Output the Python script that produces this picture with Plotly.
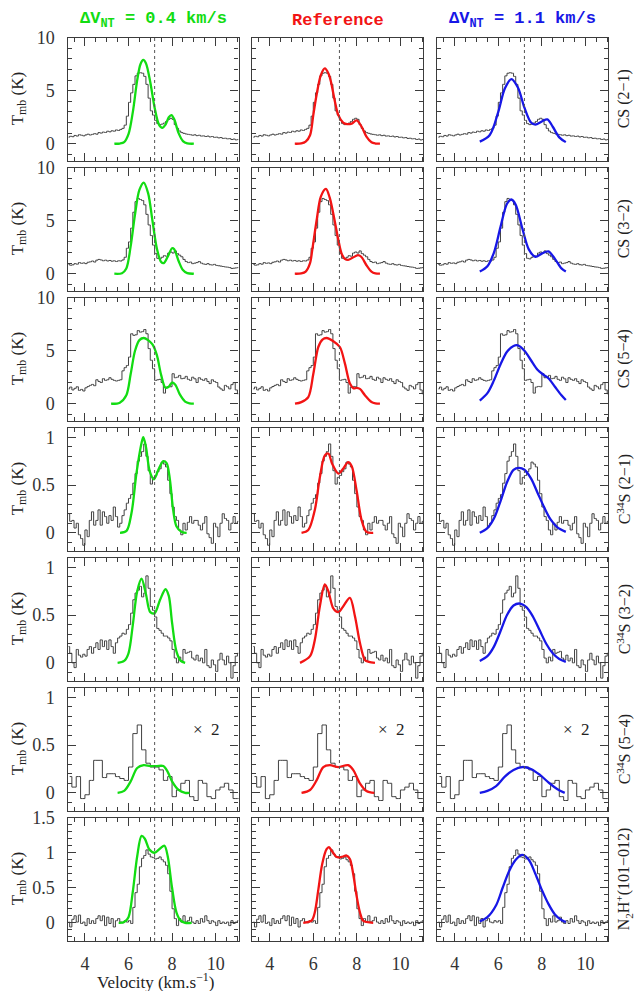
import plotly.graph_objects as go
from plotly.subplots import make_subplots

# ---- observed spectra (black histograms), same in all three columns ----
obs_v0 = 3.25
obs_dv = 0.1
cs21_obs = [0.62, 0.70, 0.66, 0.78, 0.72, 0.85, 0.80, 0.74, 0.83, 0.90,
            0.82, 0.88, 0.95, 0.90, 1.05, 1.00, 1.10, 1.06, 1.18, 1.12,
            1.22, 1.18, 1.30, 1.25, 1.35, 1.45, 1.75, 2.60, 3.90, 4.80,
            5.60, 6.40, 6.65, 6.70, 6.65, 6.35, 5.60, 4.30, 3.10, 2.70,
            2.20, 1.90, 1.80, 1.85, 1.95, 2.10, 2.30, 2.40, 2.30, 1.80,
            1.45, 1.20, 1.05, 0.98, 0.92, 0.88, 0.85, 0.80, 0.84, 0.76,
            0.80, 0.72, 0.74, 0.68, 0.72, 0.64, 0.68, 0.60, 0.62, 0.55,
            0.58, 0.50, 0.52, 0.46, 0.48, 0.40, 0.44, 0.36, 0.40]
cs32_obs = [0.88, 0.80, 0.84, 0.95, 0.90, 1.05, 0.98, 1.02, 0.95, 1.08,
            1.12, 1.20, 1.10, 1.28, 1.35, 1.30, 1.22, 1.28, 1.20, 1.25,
            1.18, 1.22, 1.15, 1.22, 1.20, 1.30, 1.55, 2.40, 3.00, 4.30,
            5.80, 6.80, 7.10, 7.00, 6.90, 6.50, 5.60, 4.60, 3.60, 2.70,
            1.90, 1.45, 1.40, 1.55, 1.70, 1.65, 1.95, 2.05, 1.95, 2.15,
            1.90, 1.75, 1.60, 1.35, 1.15, 1.05, 1.10, 0.95, 1.00, 1.05,
            1.15, 1.00, 0.92, 0.88, 0.95, 0.85, 0.82, 0.88, 0.78, 0.75,
            0.72, 0.68, 0.64, 0.62, 0.58, 0.50, 0.52, 0.55, 0.58]
cs54_obs = [1.40, 1.57, 1.30, 1.45, 1.60, 1.26, 1.35, 1.20, 1.50, 1.62,
            1.73, 1.82, 1.70, 2.26, 2.10, 2.00, 2.36, 2.20, 2.26, 2.45,
            2.30, 2.20, 2.14, 2.20, 2.26, 3.10, 3.40, 3.60, 4.40, 6.60,
            6.45, 6.50, 6.90, 6.75, 6.80, 7.00, 6.60, 5.20, 4.10, 3.30,
            2.20, 2.26, 2.30, 2.00, 1.00, 1.57, 1.63, 1.60, 2.83, 2.45,
            2.50, 2.67, 2.36, 2.40, 2.58, 2.30, 2.20, 2.50, 2.35, 2.00,
            2.45, 2.30, 2.20, 2.36, 2.10, 1.90, 2.26, 2.10, 2.00, 1.57,
            1.40, 1.26, 1.73, 1.60, 1.40, 1.80, 2.00, 1.30, 0.94]
c34s21_obs = [0.20, 0.12, 0.13, 0.05, 0.10, -0.02, -0.06, -0.13, 0.03, -0.04,
              0.13, 0.22, 0.08, 0.13, 0.24, 0.08, 0.22, 0.17, 0.10, 0.18,
              0.13, 0.27, 0.17, 0.06, 0.10, 0.18, 0.24, 0.31, 0.36, 0.40,
              0.52, 0.62, 0.75, 0.80, 0.85, 0.93, 0.80, 0.65, 0.51, 0.58,
              0.60, 0.64, 0.67, 0.74, 0.72, 0.69, 0.55, 0.41, 0.27, 0.17,
              0.13, 0.03, -0.02, 0.10, 0.03, 0.11, 0.17, 0.10, 0.13, 0.13,
              0.08, 0.03, 0.10, 0.17, -0.01, -0.05, -0.11, 0.10, 0.06, -0.04,
              0.10, 0.20, 0.15, 0.13, 0.03, 0.10, 0.17, 0.10, 0.12]
c34s32_obs = [0.17, 0.10, 0.00, -0.05, 0.14, 0.08, 0.06, 0.09, 0.07, 0.14,
              0.17, 0.10, 0.16, 0.21, 0.14, 0.24, 0.17, 0.23, 0.14, 0.24,
              0.17, 0.10, 0.21, 0.26, 0.28, 0.31, 0.30, 0.35, 0.40, 0.52,
              0.66, 0.73, 0.76, 0.80, 0.69, 0.73, 0.91, 0.78, 0.59, 0.55,
              0.48, 0.36, 0.34, 0.31, 0.28, 0.28, 0.26, 0.23, 0.14, 0.05,
              0.00, 0.06, 0.02, 0.14, 0.10, 0.11, 0.12, 0.05, 0.03, 0.08,
              0.02, 0.05, 0.00, 0.14, -0.03, -0.05, 0.03, -0.02, -0.09, 0.03,
              0.10, 0.03, -0.02, 0.07, 0.00, -0.16, -0.03, 0.07, 0.10]
n2h_obs = [0.01, -0.06, 0.05, 0.10, 0.01, 0.11, -0.01, 0.01, -0.04, 0.06,
           -0.01, 0.03, -0.01, 0.06, 0.10, 0.03, 0.10, -0.04, 0.08, -0.01,
           0.06, -0.06, 0.03, 0.06, 0.01, 0.00, 0.03, 0.01, 0.03, -0.01,
           0.22, 0.43, 0.55, 0.80, 0.92, 0.96, 1.04, 0.98, 0.94, 0.93,
           0.91, 0.92, 0.94, 0.90, 0.87, 0.82, 0.70, 0.45, 0.20, 0.06,
           -0.04, 0.06, 0.01, 0.10, 0.01, 0.03, 0.08, 0.01, -0.01, 0.03,
           -0.01, 0.06, 0.01, 0.10, 0.03, -0.01, 0.03, 0.01, -0.04, 0.03,
           -0.01, 0.01, -0.01, 0.01, -0.04, 0.03, -0.01, 0.01, 0.03]
# C34S (5-4) has coarser channels
c34s54_v0 = 3.3
c34s54_dv = 0.2
c34s54_obs = [0.17, 0.06, 0.17, -0.06, -0.02, 0.13, 0.34, 0.34, 0.16, 0.20,
              0.20, 0.17, 0.15, 0.13, 0.27, 0.62, 0.71, 0.45, 0.31, 0.27,
              0.27, 0.24, 0.13, 0.17, -0.04, 0.03, 0.10, 0.13, -0.04, -0.08,
              0.13, 0.10, -0.04, -0.06, 0.03, 0.06, 0.10, 0.03, -0.06, -0.06]

# ---- model curves: (velocity, T) per column ----
# column 1 : dV_NT = 0.4 km/s (green)
g1_v = [5.35, 5.6, 5.8, 6.0, 6.2, 6.4, 6.55, 6.68, 6.8, 7.0, 7.2, 7.4, 7.55, 7.7, 7.85, 7.97, 8.1, 8.3, 8.5, 8.7, 9.0]
g1_t = [0.0, 0.02, 0.15, 0.9, 3.0, 6.0, 7.5, 7.9, 7.6, 5.8, 3.4, 1.8, 1.5, 1.8, 2.5, 2.7, 2.3, 1.0, 0.25, 0.03, 0.0]
g2_v = [5.35, 5.7, 5.9, 6.1, 6.3, 6.5, 6.7, 6.9, 7.1, 7.3, 7.5, 7.62, 7.8, 8.0, 8.1, 8.3, 8.5, 8.7, 9.0]
g2_t = [0.0, 0.05, 0.5, 2.6, 5.6, 7.9, 8.6, 7.6, 5.0, 2.4, 1.1, 1.0, 1.6, 2.4, 2.3, 1.2, 0.35, 0.05, 0.0]
g3_v = [5.2, 5.6, 5.9, 6.1, 6.3, 6.5, 6.7, 6.9, 7.1, 7.3, 7.5, 7.7, 7.85, 8.0, 8.15, 8.35, 8.6, 8.8, 9.0]
g3_t = [0.0, 0.1, 0.8, 2.8, 5.0, 6.0, 6.2, 6.0, 5.6, 4.6, 2.7, 1.5, 1.6, 2.0, 1.8, 0.9, 0.2, 0.03, 0.0]
g4_v = [5.61, 5.91, 6.14, 6.37, 6.6, 6.68, 6.8, 6.98, 7.17, 7.37, 7.6, 7.75, 7.9, 8.05, 8.2, 8.44, 8.67]
g4_t = [0.0, 0.02, 0.21, 0.63, 0.94, 1.0, 0.9, 0.64, 0.56, 0.66, 0.75, 0.73, 0.56, 0.24, 0.07, 0.01, 0.0]
g5_v = [5.5, 5.8, 6.0, 6.2, 6.4, 6.6, 6.8, 7.0, 7.2, 7.45, 7.7, 7.85, 8.0, 8.2, 8.4, 8.6]
g5_t = [0.0, 0.02, 0.1, 0.4, 0.75, 0.88, 0.72, 0.53, 0.52, 0.66, 0.77, 0.7, 0.42, 0.12, 0.02, 0.0]
g6_v = [5.5, 5.8, 6.1, 6.4, 6.7, 7.0, 7.3, 7.6, 7.8, 8.0, 8.3, 8.6, 8.8]
g6_t = [0.0, 0.02, 0.12, 0.26, 0.29, 0.28, 0.28, 0.28, 0.22, 0.12, 0.03, 0.0, 0.0]
g7_v = [5.55, 5.8, 6.0, 6.2, 6.4, 6.6, 6.75, 6.95, 7.2, 7.45, 7.65, 7.8, 8.0, 8.2, 8.4, 8.6, 8.9]
g7_t = [0.0, 0.01, 0.08, 0.45, 0.95, 1.24, 1.2, 1.05, 1.0, 1.06, 1.1, 0.95, 0.5, 0.15, 0.03, 0.0, 0.0]

# column 2 : reference (red)
r1_v = [5.15, 5.45, 5.65, 5.85, 6.0, 6.15, 6.35, 6.53, 6.7, 6.81, 6.99, 7.15, 7.37, 7.55, 7.76, 7.99, 8.22, 8.44, 8.67, 8.85, 9.06]
r1_t = [0.0, 0.03, 0.2, 0.8, 2.7, 4.6, 6.5, 7.1, 6.6, 5.85, 4.0, 2.7, 2.0, 1.85, 1.9, 2.2, 1.6, 0.66, 0.13, 0.02, 0.0]
r2_v = [5.15, 5.45, 5.65, 5.85, 5.95, 6.15, 6.35, 6.58, 6.75, 6.99, 7.15, 7.3, 7.45, 7.6, 7.8, 8.05, 8.2, 8.44, 8.67, 8.85, 9.06]
r2_t = [0.0, 0.03, 0.2, 1.0, 2.2, 5.0, 7.3, 8.0, 7.2, 4.9, 3.2, 1.9, 1.4, 1.3, 1.5, 1.75, 1.6, 0.8, 0.2, 0.03, 0.0]
r3_v = [5.16, 5.45, 5.77, 6.0, 6.23, 6.42, 6.61, 6.92, 7.22, 7.45, 7.68, 7.85, 7.99, 8.14, 8.37, 8.67, 8.85, 9.06]
r3_t = [0.0, 0.15, 0.63, 2.8, 5.35, 6.05, 6.2, 5.9, 5.35, 3.8, 1.9, 1.45, 1.5, 1.4, 0.8, 0.16, 0.03, 0.0]
r4_v = [5.46, 5.77, 6.07, 6.3, 6.53, 6.69, 6.87, 7.15, 7.37, 7.6, 7.76, 7.99, 8.22, 8.44, 8.75]
r4_t = [0.0, 0.03, 0.24, 0.58, 0.81, 0.83, 0.72, 0.62, 0.67, 0.74, 0.7, 0.44, 0.13, 0.01, 0.0]
r5_v = [5.39, 5.85, 6.07, 6.3, 6.53, 6.69, 6.92, 7.15, 7.37, 7.68, 7.91, 8.14, 8.37, 8.55, 8.83]
r5_t = [0.0, 0.07, 0.24, 0.59, 0.82, 0.75, 0.57, 0.53, 0.59, 0.68, 0.49, 0.21, 0.03, 0.01, 0.0]
r6_v = [5.46, 5.85, 6.15, 6.46, 6.76, 7.15, 7.6, 7.83, 8.14, 8.44, 8.8]
r6_t = [0.0, 0.03, 0.13, 0.27, 0.29, 0.27, 0.29, 0.24, 0.1, 0.02, 0.0]
r7_v = [5.54, 5.92, 6.07, 6.23, 6.41, 6.61, 6.72, 6.84, 7.07, 7.3, 7.53, 7.68, 7.83, 7.99, 8.14, 8.29, 8.75]
r7_t = [0.0, 0.03, 0.15, 0.47, 0.84, 1.05, 1.08, 1.03, 0.94, 0.94, 0.96, 0.91, 0.7, 0.38, 0.15, 0.03, 0.0]

# column 3 : dV_NT = 1.1 km/s (blue)
b1_v = [5.15, 5.6, 6.0, 6.3, 6.6, 6.9, 7.2, 7.5, 7.7, 8.0, 8.25, 8.5, 8.8, 9.1]
b1_t = [0.2, 0.8, 3.0, 5.2, 6.1, 5.3, 3.4, 2.0, 1.8, 2.1, 2.3, 1.6, 0.6, 0.15]
b2_v = [5.15, 5.5, 5.8, 6.1, 6.4, 6.6, 6.8, 7.1, 7.4, 7.7, 8.0, 8.3, 8.6, 8.9, 9.1]
b2_t = [0.2, 0.7, 2.0, 4.4, 6.6, 7.0, 6.5, 4.3, 2.3, 1.6, 1.9, 2.1, 1.4, 0.5, 0.2]
b3_v = [5.15, 5.5, 5.8, 6.1, 6.4, 6.7, 6.9, 7.2, 7.5, 7.8, 8.1, 8.3, 8.6, 8.9, 9.1]
b3_t = [0.3, 1.0, 2.2, 3.7, 4.9, 5.45, 5.5, 5.0, 4.1, 3.2, 2.7, 2.4, 1.6, 0.8, 0.35]
b4_v = [5.15, 5.5, 5.8, 6.1, 6.4, 6.7, 6.95, 7.2, 7.5, 7.8, 8.1, 8.4, 8.7, 9.1]
b4_t = [0.0, 0.05, 0.15, 0.33, 0.53, 0.66, 0.68, 0.66, 0.57, 0.42, 0.27, 0.14, 0.06, 0.01]
b5_v = [5.15, 5.5, 5.8, 6.1, 6.4, 6.7, 7.0, 7.3, 7.6, 7.9, 8.2, 8.5, 8.8, 9.1]
b5_t = [0.02, 0.07, 0.17, 0.33, 0.5, 0.6, 0.62, 0.58, 0.48, 0.34, 0.2, 0.1, 0.04, 0.01]
b6_v = [5.15, 5.5, 5.9, 6.3, 6.7, 7.1, 7.5, 7.9, 8.3, 8.7, 9.05]
b6_t = [0.0, 0.02, 0.07, 0.17, 0.24, 0.27, 0.25, 0.19, 0.11, 0.04, 0.0]
b7_v = [5.15, 5.5, 5.9, 6.2, 6.5, 6.8, 7.1, 7.4, 7.7, 8.0, 8.3, 8.6, 8.9, 9.1]
b7_t = [0.02, 0.08, 0.25, 0.5, 0.74, 0.9, 0.97, 0.9, 0.7, 0.47, 0.27, 0.12, 0.04, 0.01]

line_names = ["CS (2\u22121)", "CS (3\u22122)", "CS (5\u22124)",
              "C<sup>34</sup>S (2\u22121)", "C<sup>34</sup>S (3\u22122)", "C<sup>34</sup>S (5\u22124)",
              "N<sub>2</sub>H<sup>+</sup>(101\u2212012)"]
col_titles = ["\u0394V<sub>NT</sub> = 0.4 km/s", "Reference", "\u0394V<sub>NT</sub> = 1.1 km/s"]
v_sys = 7.2
x_ticks = [4, 6, 8, 10]

observed = [(obs_v0, obs_dv, cs21_obs), (obs_v0, obs_dv, cs32_obs), (obs_v0, obs_dv, cs54_obs),
            (obs_v0, obs_dv, c34s21_obs), (obs_v0, obs_dv, c34s32_obs),
            (c34s54_v0, c34s54_dv, c34s54_obs), (obs_v0, obs_dv, n2h_obs)]
models = [
    [(g1_v, g1_t), (r1_v, r1_t), (b1_v, b1_t)],
    [(g2_v, g2_t), (r2_v, r2_t), (b2_v, b2_t)],
    [(g3_v, g3_t), (r3_v, r3_t), (b3_v, b3_t)],
    [(g4_v, g4_t), (r4_v, r4_t), (b4_v, b4_t)],
    [(g5_v, g5_t), (r5_v, r5_t), (b5_v, b5_t)],
    [(g6_v, g6_t), (r6_v, r6_t), (b6_v, b6_t)],
    [(g7_v, g7_t), (r7_v, r7_t), (b7_v, b7_t)],
]
y_ranges = [[-1.63, 10], [-1.63, 10], [-1.63, 10],
            [-0.19, 1.1], [-0.19, 1.1], [-0.19, 1.1], [-0.26, 1.5]]
y_major = [[0, 5, 10]] * 3 + [[0, 0.5, 1]] * 3 + [[0, 0.5, 1, 1.5]]
y_minor = [1, 1, 1, 0.1, 0.1, 0.1, 0.1]

colors = ["#12dc12", "#f21414", "#1717e6"]
# the page body adds an 8px margin all round; positions below are page pixels
PAD = 8
W, H = 642 - 2 * PAD, 999 - 2 * PAD
col_px = [(67.5, 238.5), (252.3, 423.3), (437.3, 608.3)]
ink = "#3c3c3c"
serif = "Liberation Serif, Times New Roman, serif"


def px(xp):
    return (xp - PAD) / W


def py(yp):
    return 1 - (yp - PAD) / H


fig = make_subplots(rows=7, cols=3)

for r in range(7):
    v0, dv, temps = observed[r]
    vel = [round(v0 + dv * i, 3) for i in range(len(temps))]
    top = 37.7 + 130 * r
    bot = top + 123.3
    for c in range(3):
        fig.add_trace(go.Scatter(x=vel, y=temps, mode="lines", line_shape="hvh",
                                 line=dict(color="#404040", width=1), hoverinfo="skip"),
                      row=r + 1, col=c + 1)
        mv, mt = models[r][c]
        fig.add_trace(go.Scatter(x=mv, y=mt, mode="lines", line_shape="spline",
                                 line=dict(color=colors[c], width=2.3, smoothing=0.9)),
                      row=r + 1, col=c + 1)
        fig.update_xaxes(domain=[px(col_px[c][0]), px(col_px[c][1])], range=[3.2, 11.05],
                         tickvals=x_ticks, showticklabels=(r == 6),
                         ticks="inside", ticklen=8, tickwidth=1, tickcolor=ink,
                         minor=dict(dtick=0.5, ticklen=4, ticks="inside", tickcolor=ink, tickwidth=1),
                         showline=True, linecolor=ink, linewidth=1.2, mirror="allticks",
                         showgrid=False, zeroline=False, ticklabelstandoff=6, automargin=False,
                         tickfont=dict(family=serif, size=18, color="#333"),
                         row=r + 1, col=c + 1)
        fig.update_yaxes(domain=[py(bot), py(top)], range=y_ranges[r],
                         tickvals=y_major[r], ticktext=[f"{t:g}" for t in y_major[r]],
                         showticklabels=(c == 0),
                         ticks="inside", ticklen=8, tickwidth=1, tickcolor=ink,
                         minor=dict(dtick=y_minor[r], ticklen=4, ticks="inside", tickcolor=ink, tickwidth=1),
                         showline=True, linecolor=ink, linewidth=1.2, mirror="allticks",
                         showgrid=False, zeroline=False, ticklabelstandoff=8, automargin=False,
                         tickfont=dict(family=serif, size=18, color="#333"),
                         row=r + 1, col=c + 1)
        idx = r * 3 + c + 1
        xr = "x" if idx == 1 else f"x{idx}"
        yr = "y" if idx == 1 else f"y{idx}"
        fig.add_shape(type="line", xref=xr, yref=f"{yr} domain", x0=v_sys, x1=v_sys, y0=0, y1=1,
                      line=dict(color="#555", width=1, dash="dot"))
        if r == 5:
            fig.add_annotation(x=9.6, y=0.66, xref=xr, yref=yr, text="\u00d7  2", showarrow=False,
                               xanchor="center", yanchor="middle",
                               font=dict(family=serif, size=17, color="#222"))
    # y title and line name
    yc = py((top + bot) / 2)
    fig.add_annotation(x=px(19), y=yc, xref="paper", yref="paper", text="T<sub>mb</sub> (K)",
                       textangle=-90, showarrow=False, xanchor="center", yanchor="middle",
                       font=dict(family=serif, size=17, color="#222"))
    fig.add_annotation(x=px(624), y=yc, xref="paper", yref="paper", text=line_names[r],
                       textangle=-90, showarrow=False, xanchor="center", yanchor="middle",
                       font=dict(family=serif, size=16, color="#222"))

for c in range(3):
    fig.add_annotation(x=px((col_px[c][0] + col_px[c][1]) / 2), y=py(20), xref="paper", yref="paper",
                       text=f"<b>{col_titles[c]}</b>", showarrow=False,
                       xanchor="center", yanchor="middle",
                       font=dict(family="Liberation Mono, Courier New, monospace", size=17, color=colors[c]))

fig.add_annotation(x=px(155), y=py(981), xref="paper", yref="paper",
                   text="Velocity (km.s<sup>\u22121</sup>)", showarrow=False,
                   xanchor="center", yanchor="middle",
                   font=dict(family=serif, size=17, color="#222"))

fig.update_layout(width=W, height=H, margin=dict(l=0, r=0, t=0, b=0),
                  paper_bgcolor="white", plot_bgcolor="white", showlegend=False)

fig.write_html("out.html")
